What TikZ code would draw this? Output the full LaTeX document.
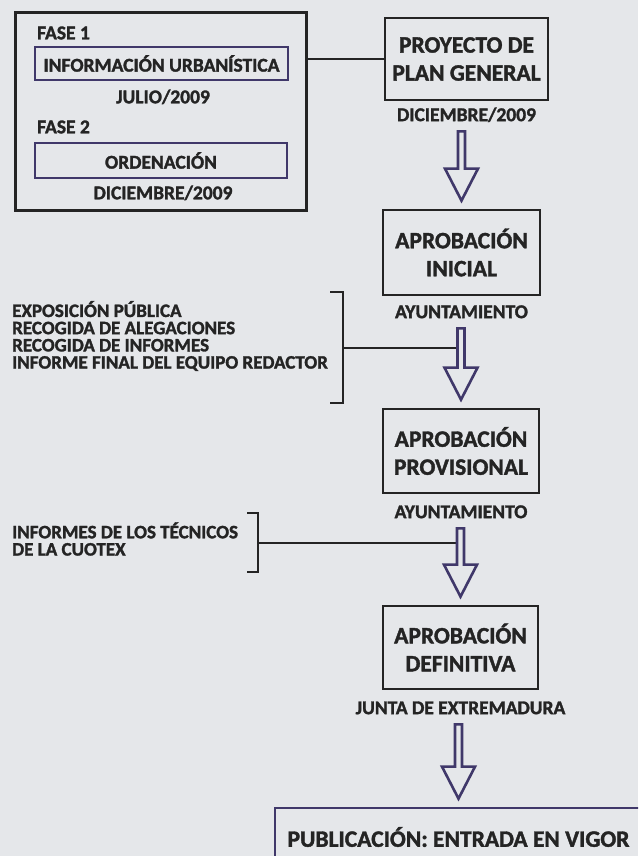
\documentclass[tikz,border=0pt]{standalone}
\usepackage{fontspec}
\setmainfont{Carlito}[BoldFeatures={FakeBold=1.6}]
\usepackage{xcolor}
\usepackage{tikz}
\usetikzlibrary{positioning,calc}

\definecolor{fondo}{HTML}{E5E7EA}
\definecolor{tinta}{HTML}{242424}
\definecolor{morado}{HTML}{40386A}

\newcommand{\chico}{\fontsize{19.5}{16}\selectfont\bfseries}
\newcommand{\lista}{\fontsize{19}{17.2}\selectfont\bfseries}
\newcommand{\grande}{\fontsize{23.5}{28}\selectfont\bfseries}

% flecha hueca de un nodo al siguiente
\newcommand{\flecha}[2]{%
  \draw[hueca] let \p1=(#1.south), \p2=(#2.north) in
    (\x2-3.5pt,\y1-10pt) -- (\x2-3.5pt,\y2+40pt) -- (\x2-16.5pt,\y2+40pt)
    -- (\x2,\y2+8pt) -- (\x2+16.5pt,\y2+40pt) -- (\x2+3.5pt,\y2+40pt)
    -- (\x2+3.5pt,\y1-10pt) -- cycle;}

\begin{document}
\begin{tikzpicture}[
        x=1pt, y=-1pt,
        caja/.style={rectangle, draw=tinta, line width=2.7pt, text=tinta, align=center,
                     inner sep=0pt, font=\grande, minimum width=156pt, minimum height=84pt},
        fase/.style={rectangle, draw=morado, line width=2.5pt, text=tinta, inner sep=0pt, font=\chico},
        etiqueta/.style={font=\chico, text=tinta, inner sep=0pt, text height=12.6pt, text depth=0pt},
        texto/.style={font=\lista, text=tinta, inner sep=0pt, align=left, anchor=west},
        linea/.style={draw=tinta, line width=2pt},
        hueca/.style={draw=morado, fill=fondo, line width=2.6pt, line join=miter}
      ]
        \useasboundingbox (0,0) rectangle (638,856);
        \clip (0,0) rectangle (638,856);
        \fill[fondo] (0,0) rectangle (638,856);

        % Fases
        \node [rectangle, draw=tinta, line width=3pt, minimum width=291pt, minimum height=197pt] (fases) at (160.5,111.5) {};
        \node [etiqueta, anchor=west] (fase1) at (37,33) {FASE 1};
        \node [fase, minimum width=253pt, minimum height=33pt] (informacion) at (161.5,63.5) {INFORMACIÓN URBANÍSTICA};
        \node [etiqueta] (julio) at (163,97) {JULIO/2009};
        \node [etiqueta, anchor=west] (fase2) at (37,127) {FASE 2};
        \node [fase, minimum width=252pt, minimum height=35pt] (ordenacion) at (161,160.5) {ORDENACIÓN};
        \node [etiqueta] (diciembre) at (163,193) {DICIEMBRE/2009};

        % Columna principal
        \node [caja, minimum width=163pt, minimum height=82pt] (proyecto) at (466.5,59) {PROYECTO DE\\PLAN GENERAL};
        \node [etiqueta, below=7pt of proyecto] (fecha) {DICIEMBRE/2009};
        \node [caja, minimum width=157pt, minimum height=85pt] (inicial) at (461.5,252.5) {APROBACIÓN\\INICIAL};
        \node [etiqueta, below=9pt of inicial] (ayto1) {AYUNTAMIENTO};
        \node [caja] (provisional) at (461,451) {APROBACIÓN\\PROVISIONAL};
        \node [etiqueta, below=11pt of provisional] (ayto2) {AYUNTAMIENTO};
        \node [caja, minimum width=155pt, minimum height=83pt] (definitiva) at (460.5,647.5) {APROBACIÓN\\DEFINITIVA};
        \node [etiqueta, below=11pt of definitiva] (junta) {JUNTA DE EXTREMADURA};
        \node [caja, draw=morado, minimum width=367pt, minimum height=58pt] (publicacion) at (458.5,837) {PUBLICACIÓN: ENTRADA EN VIGOR};

        % Tramites
        \node [texto] (exposicion) at (12,336) {EXPOSICIÓN PÚBLICA\\RECOGIDA DE ALEGACIONES\\RECOGIDA DE INFORMES\\INFORME FINAL DEL EQUIPO REDACTOR};
        \node [texto] (informes) at (12,539) {INFORMES DE LOS TÉCNICOS\\DE LA CUOTEX};

        % Llaves
        \draw [linea] (330,292) -| (343,403) -- (330,403);
        \draw [linea] (247,513) -| (258,572) -- (247,572);
        \coordinate (llave1) at (343,347.5);
        \coordinate (llave2) at (258,542.5);

        % Lineas
        \draw [linea] (fases.east |- proyecto.west) -- (proyecto.west);
        \draw [linea] (llave1) -- (llave1 -| inicial.south);
        \draw [linea] (llave2) -- (llave2 -| provisional.south);

        % Flechas
        \flecha{fecha}{inicial}
        \flecha{ayto1}{provisional}
        \flecha{ayto2}{definitiva}
        \flecha{junta}{publicacion}
      \end{tikzpicture}
\end{document}
